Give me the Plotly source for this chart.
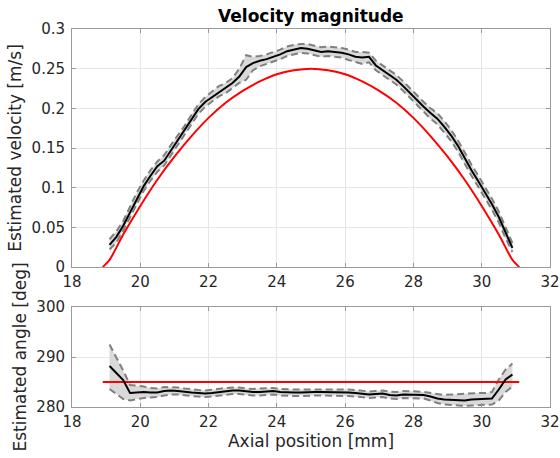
import plotly.graph_objects as go
from plotly.subplots import make_subplots

# ---------------- data ----------------
pos_mm = [19.1, 19.3, 19.5, 19.7, 19.9, 20.1, 20.3, 20.5, 20.7, 20.9,
          21.1, 21.3, 21.5, 21.7, 21.9, 22.1, 22.3, 22.5, 22.7, 22.9,
          23.1, 23.3, 23.5, 23.7, 23.9, 24.1, 24.3, 24.5, 24.7, 24.9,
          25.1, 25.3, 25.5, 25.7, 25.9, 26.1, 26.3, 26.5, 26.7, 26.9,
          27.1, 27.3, 27.5, 27.7, 27.9, 28.1, 28.3, 28.5, 28.7, 28.9,
          29.1, 29.3, 29.5, 29.7, 29.9, 30.1, 30.3, 30.5, 30.7, 30.9]

vel_mean = [0.028, 0.038, 0.052, 0.069, 0.087, 0.102, 0.115, 0.127, 0.134, 0.147,
            0.160, 0.172, 0.186, 0.199, 0.208, 0.214, 0.221, 0.226, 0.232, 0.240,
            0.252, 0.257, 0.260, 0.262, 0.265, 0.268, 0.272, 0.274, 0.276, 0.275,
            0.273, 0.271, 0.272, 0.271, 0.270, 0.268, 0.265, 0.264, 0.265, 0.254,
            0.248, 0.242, 0.236, 0.228, 0.219, 0.210, 0.202, 0.194, 0.187, 0.177,
            0.166, 0.153, 0.137, 0.122, 0.108, 0.094, 0.079, 0.063, 0.043, 0.024]

vel_upper = [0.035, 0.045, 0.058, 0.076, 0.094, 0.109, 0.122, 0.133, 0.141, 0.154,
             0.166, 0.178, 0.192, 0.205, 0.214, 0.221, 0.228, 0.232, 0.238, 0.250,
             0.267, 0.265, 0.266, 0.268, 0.271, 0.274, 0.278, 0.280, 0.281, 0.281,
             0.279, 0.277, 0.278, 0.277, 0.276, 0.274, 0.271, 0.271, 0.270, 0.260,
             0.254, 0.248, 0.242, 0.234, 0.225, 0.216, 0.208, 0.200, 0.194, 0.184,
             0.173, 0.160, 0.144, 0.129, 0.115, 0.101, 0.086, 0.070, 0.050, 0.030]

vel_lower = [0.022, 0.031, 0.046, 0.063, 0.080, 0.096, 0.109, 0.120, 0.128, 0.141,
             0.154, 0.166, 0.180, 0.193, 0.202, 0.208, 0.215, 0.219, 0.225, 0.232,
             0.236, 0.248, 0.253, 0.256, 0.259, 0.262, 0.266, 0.268, 0.270, 0.269,
             0.267, 0.265, 0.266, 0.265, 0.264, 0.261, 0.258, 0.256, 0.258, 0.248,
             0.242, 0.236, 0.230, 0.222, 0.213, 0.204, 0.196, 0.187, 0.180, 0.170,
             0.159, 0.146, 0.130, 0.115, 0.101, 0.087, 0.072, 0.056, 0.036, 0.019]

true_pos_mm = [18.9, 19.1, 19.5, 20.0, 20.5, 21.0, 21.5, 22.0, 22.5, 23.0, 23.5,
               24.0, 24.5, 25.0, 25.5, 26.0, 26.5, 27.0, 27.5, 28.0, 28.5,
               29.0, 29.5, 30.0, 30.5, 30.9, 31.1]
true_vel = [0.0, 0.009, 0.041, 0.077, 0.110, 0.139, 0.165, 0.188, 0.207, 0.222, 0.234,
            0.243, 0.248, 0.250, 0.248, 0.243, 0.234, 0.222, 0.207, 0.188, 0.165,
            0.139, 0.110, 0.077, 0.041, 0.009, 0.0]

ang_mean = [288.2, 286.8, 285.4, 282.8, 282.9, 283.0, 282.9, 282.9, 283.2, 283.3,
            283.2, 283.0, 282.9, 282.8, 282.7, 282.8, 283.0, 283.1, 283.3, 283.3,
            283.1, 283.0, 283.0, 283.1, 283.2, 283.0, 282.9, 282.9, 282.9, 283.0,
            283.0, 283.0, 283.0, 283.0, 282.9, 282.9, 282.8, 282.7, 282.5, 282.6,
            282.7, 282.4, 282.3, 282.5, 282.5, 282.5, 282.4, 282.1, 281.7, 281.5,
            281.4, 281.4, 281.3, 281.5, 281.6, 281.6, 281.7, 283.5, 285.5, 286.5]

ang_upper = [292.5, 290.0, 287.3, 284.4, 284.3, 284.1, 283.8, 283.7, 284.0, 284.0,
             283.9, 283.7, 283.5, 283.4, 283.3, 283.5, 283.7, 283.8, 283.9, 283.9,
             283.7, 283.6, 283.7, 283.7, 283.8, 283.6, 283.5, 283.5, 283.5, 283.5,
             283.6, 283.6, 283.6, 283.5, 283.5, 283.5, 283.4, 283.3, 283.1, 283.2,
             283.3, 283.1, 283.0, 283.2, 283.2, 283.1, 283.0, 282.8, 282.5, 282.4,
             282.5, 282.6, 282.7, 282.7, 282.8, 282.8, 283.0, 285.5, 287.5, 288.7]

ang_lower = [283.6, 282.6, 281.6, 281.3, 281.6, 281.8, 281.9, 282.0, 282.3, 282.5,
             282.5, 282.3, 282.2, 282.1, 282.0, 282.1, 282.3, 282.4, 282.6, 282.6,
             282.4, 282.3, 282.3, 282.4, 282.5, 282.3, 282.2, 282.2, 282.2, 282.3,
             282.3, 282.3, 282.3, 282.3, 282.2, 282.2, 282.1, 282.0, 281.8, 281.9,
             282.0, 281.7, 281.6, 281.8, 281.8, 281.8, 281.7, 281.3, 280.8, 280.5,
             280.4, 280.3, 280.2, 280.3, 280.4, 280.4, 280.5, 281.3, 283.0, 284.1]

true_ang_pos = [18.9, 31.1]
true_ang = [285.0, 285.0]

x_ticks = [18, 20, 22, 24, 26, 28, 30, 32]
vel_ticks = [0, 0.05, 0.1, 0.15, 0.2, 0.25, 0.3]
vel_ticktext = ["0", "0.05", "0.1", "0.15", "0.2", "0.25", "0.3"]
ang_ticks = [280, 290, 300]

# ---------------- styles ----------------
FONT = "DejaVu Sans"
TXT = "#262626"
FRAME = "#9a9a9a"
GRID = "#e6e6e6"
BAND = "#d9d9d9"
DASH = "#808080"

fig = make_subplots(rows=2, cols=1, shared_xaxes=False, vertical_spacing=0.0)


def add_panel(row, x, mean, up, lo, tx, ty, smooth_true):
    fig.add_trace(go.Scatter(x=x + x[::-1], y=up + lo[::-1], fill="toself",
                             fillcolor=BAND, line=dict(width=0), mode="lines",
                             hoverinfo="skip", showlegend=False), row=row, col=1)
    for b in (up, lo):
        fig.add_trace(go.Scatter(x=x, y=b, mode="lines",
                                 line=dict(color=DASH, width=2, dash="7px,4px"),
                                 hoverinfo="skip", showlegend=False), row=row, col=1)
    tl = dict(color="#ff0000", width=2)
    if smooth_true:
        tl.update(shape="spline", smoothing=0.8)
    fig.add_trace(go.Scatter(x=tx, y=ty, mode="lines", line=tl,
                             hoverinfo="skip", showlegend=False), row=row, col=1)
    fig.add_trace(go.Scatter(x=x, y=mean, mode="lines",
                             line=dict(color="#000000", width=2),
                             hoverinfo="skip", showlegend=False), row=row, col=1)


add_panel(1, pos_mm, vel_mean, vel_upper, vel_lower, true_pos_mm, true_vel, True)
add_panel(2, pos_mm, ang_mean, ang_upper, ang_lower, true_ang_pos, true_ang, False)

axis_common = dict(showline=True, linecolor=FRAME, linewidth=1, mirror="ticks",
                   showgrid=True, gridcolor=GRID, gridwidth=1, zeroline=False,
                   ticks="inside", ticklen=4, tickcolor=FRAME, automargin=False,
                   tickfont=dict(family=FONT, size=15, color=TXT))

W, H = 560, 458
top_px, mid_top_px, mid_bot_px, bot_px = 29.3, 267.3, 307.3, 407.3
left_px, right_px = 71.7, 550.0
span = bot_px - top_px

fig.update_xaxes(axis_common, range=[18, 32], tickvals=x_ticks, ticklabelstandoff=1)
fig.update_xaxes(row=2, col=1,
                 title=dict(text="Axial position [mm]", standoff=2,
                            font=dict(family=FONT, size=17, color=TXT)))
fig.update_yaxes(axis_common, ticklabelstandoff=3)
fig.update_yaxes(row=1, col=1, range=[0, 0.3], tickvals=vel_ticks, ticktext=vel_ticktext,
                 domain=[(bot_px - mid_top_px) / span, 1.0],
                 title=dict(text="Estimated velocity [m/s]", standoff=5,
                            font=dict(family=FONT, size=17, color=TXT)))
fig.update_yaxes(row=2, col=1, range=[280, 300], tickvals=ang_ticks,
                 domain=[0.0, (bot_px - mid_bot_px) / span],
                 title=dict(text="Estimated angle [deg]", standoff=5,
                            font=dict(family=FONT, size=17, color=TXT)))

fig.update_layout(
    width=W, height=H,
    margin=dict(l=left_px, r=W - right_px, t=top_px, b=H - bot_px),
    plot_bgcolor="white", paper_bgcolor="white",
    showlegend=False,
    hovermode=False,
    font=dict(family=FONT, color=TXT),
    title=dict(text="<b>Velocity magnitude</b>",
               x=((left_px + right_px) / 2) / W, xanchor="center",
               y=1 - 16 / H, yanchor="middle",
               font=dict(family=FONT, size=17, color="#000000")),
)

# remove the default page margin so the 560x458 figure fills the window exactly
fig.write_html("out.html",
               config={"displayModeBar": False, "staticPlot": True},
               post_script="document.body.style.margin='0';"
                           "document.body.style.overflow='hidden';")
